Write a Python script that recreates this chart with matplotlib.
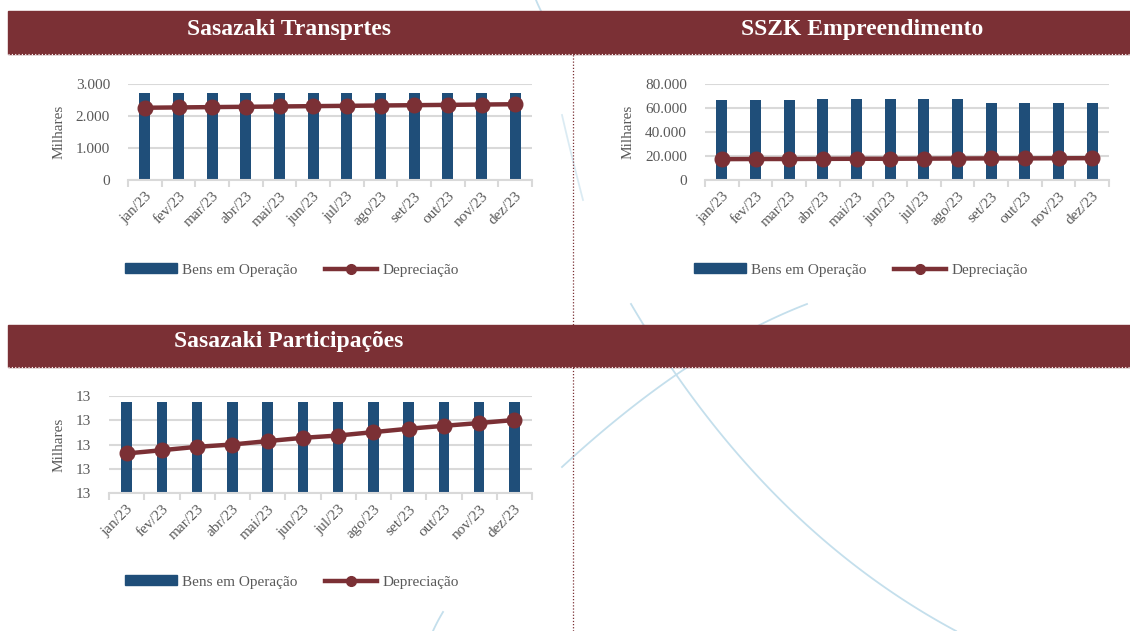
import numpy as np
import matplotlib
matplotlib.use("Agg")
import matplotlib.pyplot as plt
from matplotlib.patches import Patch, Rectangle
from matplotlib.lines import Line2D
from matplotlib.ticker import FuncFormatter

W, H = 1130, 631

months = ["jan/23", "fev/23", "mar/23", "abr/23", "mai/23", "jun/23",
          "jul/23", "ago/23", "set/23", "out/23", "nov/23", "dez/23"]

# Sasazaki Transprtes (milhares)
transp_bens = [2730, 2730, 2730, 2730, 2730, 2730, 2730, 2730, 2730, 2730, 2730, 2730]
transp_depr = [2258, 2268, 2278, 2288, 2298, 2308, 2318, 2328, 2338, 2348, 2358, 2368]

# SSZK Empreendimento (milhares)
sszk_bens = [66900, 67000, 67000, 67100, 67100, 67200, 67300, 67500, 64100, 64100, 64200, 64100]
sszk_depr = [17400, 17500, 17500, 17600, 17700, 17700, 17800, 17900, 18000, 18000, 18100, 18200]

# Sasazaki Participações (milhares)
part_bens = [13.275] * 12
part_depr = [13.2326, 13.2353, 13.2381, 13.2400, 13.2428, 13.2455,
             13.2474, 13.2502, 13.2530, 13.2554, 13.2577, 13.2602]

BAR = "#1F4E79"
RED = "#7B3035"
GRAY = "#595959"
GRID = "#D9D9D9"
ARC = "#C4DFEC"

plt.rcParams["font.family"] = ["Liberation Serif", "DejaVu Serif"]

fig = plt.figure(figsize=(W / 100, H / 100), dpi=100)
fig.patch.set_facecolor("white")


def px(x0, y0, x1, y1):
    return [x0 / W, 1 - y1 / H, (x1 - x0) / W, (y1 - y0) / H]


def bezier(p0, c, p2, n=120):
    t = np.linspace(0, 1, n)[:, None]
    pts = (1 - t) ** 2 * np.array(p0) + 2 * (1 - t) * t * np.array(c) + t ** 2 * np.array(p2)
    return pts[:, 0], pts[:, 1]


# background decoration: faint arcs
bg = fig.add_axes([0, 0, 1, 1])
bg.set_xlim(0, W)
bg.set_ylim(H, 0)
bg.axis("off")
for p0, c, p2, a in [((631, 304), (762, 527), (956, 631), 1.0),
                     ((562, 467), (690, 349), (807, 304), 1.0),
                     ((536, 0), (538, 5), (541, 11), 1.0),
                     ((562, 115), (570, 150), (583, 200), 0.6),
                     ((433, 631), (437, 622), (443, 612), 1.0)]:
    bx, by = bezier(p0, c, p2)
    bg.plot(bx, by, color=ARC, lw=1.3, alpha=a, zorder=0)

# header bands
for y0, y1 in [(11, 54), (325, 367)]:
    bg.add_patch(Rectangle((8, y0), W - 8, y1 - y0, color=RED, zorder=1))
    bg.plot([8, W], [y1, y1], color="white", lw=0.8, ls=(0, (1, 2)), zorder=2)
bg.plot([572.5, 572.5], [11, H], color=RED, lw=0.9, ls=(0, (1, 1.5)), zorder=2)

for x, y, s in [(289, 30, "Sasazaki Transprtes"),
                (862, 30, "SSZK Empreendimento"),
                (289, 342, "Sasazaki Participações")]:
    bg.text(x, y, s, color="white", fontsize=17, fontweight="bold",
            ha="center", va="center", zorder=3)


def panel(rect, bars, line, ylim, ticks, fmt, bar_w, ylab_x, leg_y, leg_x):
    ax = fig.add_axes(px(*rect))
    x = np.arange(len(months))
    ax.bar(x, bars, width=bar_w, color=BAR, zorder=2)
    ax.plot(x, line, color=RED, lw=3.2, marker="o", markersize=10.5, zorder=3)
    ax.set_xlim(-0.5, len(months) - 0.5)
    ax.set_ylim(*ylim)
    ax.set_yticks(ticks)
    ax.yaxis.set_major_formatter(FuncFormatter(fmt))
    ax.set_xticks(x)
    ax.set_xticklabels(months, rotation=45, ha="right", rotation_mode="anchor",
                       color=GRAY, fontsize=11)
    ax.set_xticks(np.arange(-0.5, len(months)), minor=True)
    ax.tick_params(axis="x", which="major", length=0, pad=7)
    ax.tick_params(axis="x", which="minor", length=5, color=GRID, width=1.5)
    ax.tick_params(axis="y", length=0, labelcolor=GRAY, labelsize=11, pad=13)
    ax.grid(axis="y", color=GRID, lw=1.5, zorder=0)
    for s in ["top", "right", "left"]:
        ax.spines[s].set_visible(False)
    ax.spines["bottom"].set_color(GRID)
    ax.spines["bottom"].set_linewidth(1.5)
    ax.set_facecolor("none")
    fig.text(ylab_x / W, 1 - ((rect[1] + rect[3]) / 2) / H, "Milhares",
             rotation=90, ha="center", va="center", color=GRAY, fontsize=11)
    handles = [Patch(color=BAR, label="Bens em Operação"),
               Line2D([], [], color=RED, lw=3.2, marker="o", markersize=7,
                      label="Depreciação")]
    fig.legend(handles=handles, loc="center left", ncol=2, frameon=False,
               bbox_to_anchor=(leg_x / W, 1 - leg_y / H), fontsize=11,
               handlelength=3.4, handleheight=0.6, columnspacing=1.8,
               handletextpad=0.35, labelcolor=GRAY, borderpad=0,
               borderaxespad=0)
    return ax


fmt_mil = lambda v, p: f"{v:,.0f}".replace(",", ".")

panel((128, 84, 532, 180), transp_bens, transp_depr, (0, 3000),
      [0, 1000, 2000, 3000], fmt_mil, 0.32, 59, 270, 125)
panel((705, 84, 1109, 180), sszk_bens, sszk_depr, (0, 80000),
      [0, 20000, 40000, 60000, 80000], fmt_mil, 0.32, 628, 270, 694)
panel((109, 396, 532, 493), part_bens, part_depr, (13.20, 13.28),
      [13.20, 13.22, 13.24, 13.26, 13.28], lambda v, p: f"{v:.0f}",
      0.30, 59, 582, 125)

fig.savefig("out.png", dpi=100, facecolor="white")
